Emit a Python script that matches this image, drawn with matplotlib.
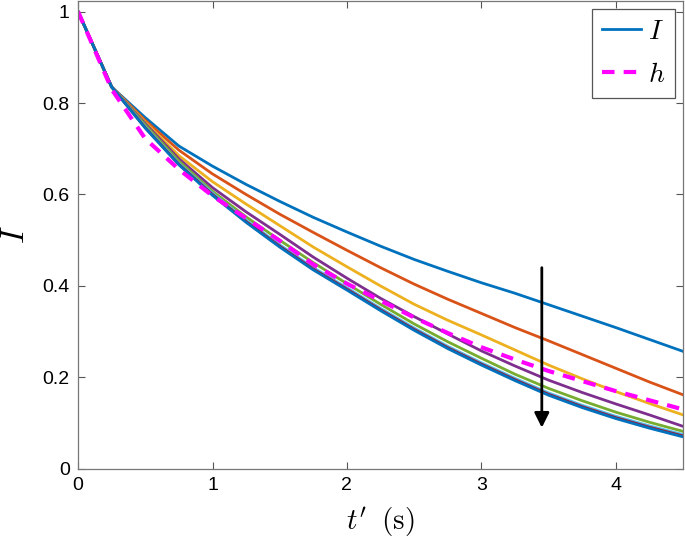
import numpy as np
import matplotlib
matplotlib.use("Agg")
import matplotlib.pyplot as plt

# time samples (s)
t = [0, 0.25, 0.5, 0.75, 1, 1.25, 1.5, 1.75, 2, 2.25, 2.5, 2.75,
     3, 3.25, 3.5, 3.75, 4, 4.25, 4.5]

# intensity curves I (top to bottom)
I1 = [1, 0.835, 0.768, 0.706, 0.662, 0.622, 0.585, 0.550, 0.518, 0.487,
      0.458, 0.432, 0.407, 0.384, 0.359, 0.334, 0.309, 0.283, 0.257]
I2 = [1, 0.835, 0.762, 0.697, 0.645, 0.600, 0.557, 0.517, 0.478, 0.440,
      0.404, 0.371, 0.340, 0.309, 0.280, 0.250, 0.220, 0.190, 0.162]
I3 = [1, 0.835, 0.758, 0.685, 0.628, 0.579, 0.532, 0.485, 0.442, 0.400,
      0.360, 0.325, 0.293, 0.260, 0.227, 0.197, 0.169, 0.143, 0.118]
I4 = [1, 0.835, 0.755, 0.678, 0.615, 0.562, 0.513, 0.463, 0.417, 0.373,
      0.333, 0.295, 0.258, 0.225, 0.194, 0.167, 0.142, 0.118, 0.093]
I5 = [1, 0.835, 0.752, 0.673, 0.607, 0.551, 0.500, 0.451, 0.405, 0.360,
      0.317, 0.278, 0.242, 0.207, 0.176, 0.149, 0.124, 0.102, 0.082]
I6 = [1, 0.835, 0.748, 0.668, 0.603, 0.544, 0.490, 0.440, 0.396, 0.351,
      0.308, 0.268, 0.232, 0.198, 0.166, 0.139, 0.115, 0.094, 0.075]
I7 = [1, 0.835, 0.746, 0.666, 0.600, 0.541, 0.487, 0.437, 0.393, 0.348,
      0.305, 0.265, 0.229, 0.195, 0.163, 0.136, 0.112, 0.091, 0.072]
I8 = [1, 0.835, 0.745, 0.665, 0.598, 0.539, 0.485, 0.435, 0.391, 0.346,
      0.303, 0.263, 0.227, 0.193, 0.161, 0.134, 0.110, 0.089, 0.070]
curves = [I1, I2, I3, I4, I5, I6, I7, I8]

# h curve (dashed)
h = [1, 0.830, 0.722, 0.655, 0.597, 0.548, 0.499, 0.447, 0.405, 0.368,
     0.331, 0.297, 0.266, 0.239, 0.214, 0.192, 0.170, 0.150, 0.130]

# arrow (x, y start, y end)
arrow_x = 3.45
arrow_y = [0.44, 0.09]

colors = ['#0072BD', '#D95319', '#EDB120', '#7E2F8E', '#77AC30',
          '#4DBEEE', '#A2142F', '#0072BD']

plt.rcParams['mathtext.fontset'] = 'cm'
plt.rcParams['font.family'] = ['Liberation Sans', 'DejaVu Sans']

fig = plt.figure(figsize=(6.85, 5.42), dpi=100)
ax = fig.add_axes([0.114, 0.135, 0.883, 0.863])

for i, y in enumerate(curves):
    lab = '$I$' if i == 0 else None
    ax.plot(t, y, '-', color=colors[i], linewidth=2.0, label=lab)

ax.plot(t, h, '--', color='#FF00FF', linewidth=3.0, dashes=(3, 2.2), label='$h$')

ax.annotate('', xy=(arrow_x, arrow_y[1]), xytext=(arrow_x, arrow_y[0]),
            arrowprops=dict(arrowstyle='-|>', color='black', lw=2,
                            mutation_scale=22, shrinkA=0, shrinkB=0))

ax.set_xlim(0, 4.5)
ax.set_ylim(0, 1.023)
ax.set_xticks([0, 1, 2, 3, 4])
ax.set_yticks([0, 0.2, 0.4, 0.6, 0.8, 1])
ax.set_yticklabels(['0', '0.2', '0.4', '0.6', '0.8', '1'])
ax.tick_params(direction='in', top=True, right=True, labelsize=14,
               length=5, color='#555555', width=0.8, pad=6)
for s in ax.spines.values():
    s.set_color('#777777')
    s.set_linewidth(0.9)

ax.set_xlabel("$t' \\;\\; (\\mathrm{s})$", fontsize=21, labelpad=8)
ax.set_ylabel('$I$', fontsize=24, labelpad=8)

leg = ax.legend(loc='upper right', fontsize=20, fancybox=False,
                edgecolor='#555555', framealpha=1, handlelength=1.4,
                borderaxespad=0.3, handletextpad=0.25, borderpad=0.35,
                labelspacing=0.6)
leg.get_frame().set_linewidth(0.9)

fig.savefig('out.png', dpi=100)
